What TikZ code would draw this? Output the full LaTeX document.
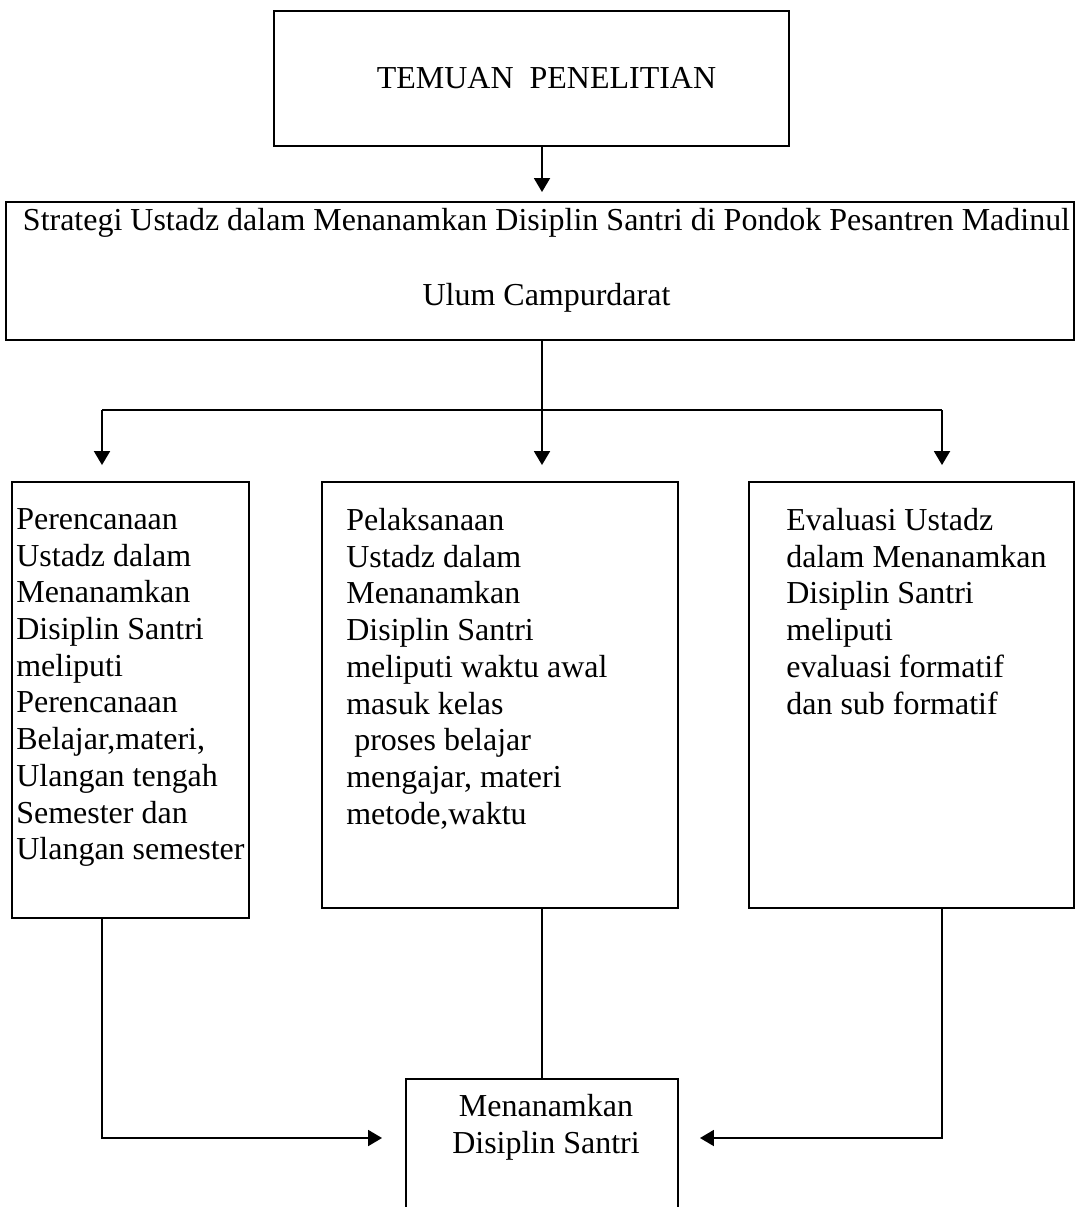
\documentclass[tikz,border=0pt]{standalone}
\usepackage{fontspec}
\setmainfont{Liberation Serif}
\usetikzlibrary{arrows.meta, positioning, calc}
\tikzset{
  kotak/.style={
    rectangle, draw=black, line width=1.1pt,
    inner sep=0pt, outer sep=0pt
  },
  isi/.style={
    anchor=north west, inner sep=0pt, align=left,
    font=\fontsize{18.2}{20.9}\selectfont
  },
  panah/.style={
    -{Triangle[length=0.28cm,width=0.32cm]}, line width=1.1pt
  },
  garis/.style={line width=1.1pt}
}

\begin{document}
\begin{tikzpicture}[x=0.02cm, y=-0.02cm]
  \useasboundingbox (0,0) rectangle (1078,1207);
  \clip (0,0) rectangle (1078,1207);

  % kotak atas
  \node[kotak, minimum width=10.3cm, minimum height=2.7cm,
        font=\fontsize{18.2}{20.9}\selectfont] (temuan) at (531.5,78.5)
    {\hspace*{0.6cm}TEMUAN\ \ PENELITIAN};

  % kotak strategi
  \node[kotak, minimum width=21.36cm, minimum height=2.76cm] (strategi) at (540,271) {};
  \node[align=center, inner sep=0pt, font=\fontsize{18.2}{42.7}\selectfont] (strategiteks) at (546.5,260.5)
    {Strategi Ustadz dalam Menanamkan Disiplin Santri di Pondok Pesantren Madinul\\
     Ulum Campurdarat};

  % tiga kotak tengah
  \node[kotak, minimum width=4.74cm, minimum height=8.72cm] (rencana) at (130.5,700) {};
  \node[kotak, minimum width=7.12cm, minimum height=8.52cm] (laksana) at (500,695) {};
  \node[kotak, minimum width=6.5cm, minimum height=8.52cm] (evaluasi) at (911.5,695) {};

  \node[isi] (rencanateks) at (16,508)
    {Perencanaan\\Ustadz dalam\\Menanamkan\\Disiplin Santri\\meliputi\\Perencanaan\\
     Belajar,materi,\\Ulangan tengah\\Semester dan\\Ulangan semester};
  \node[isi] (laksanateks) at (346,508)
    {Pelaksanaan\\Ustadz dalam\\Menanamkan\\Disiplin Santri\\meliputi waktu awal\\
     masuk kelas\\\hspace*{0.16cm}proses belajar\\mengajar, materi\\metode,waktu};
  \node[isi] (evaluasiteks) at (786,508)
    {Evaluasi Ustadz\\dalam Menanamkan\\Disiplin Santri\\meliputi\\evaluasi formatif\\
     dan sub formatif};

  % kotak bawah (terpotong di tepi bawah)
  \node[kotak, minimum width=5.44cm, minimum height=3.62cm] (hasil) at (542,1169.5) {};
  \node[align=center, inner sep=0pt, font=\fontsize{18.2}{20.9}\selectfont] (hasilteks) at (546,1127.5)
    {Menanamkan\\Disiplin Santri};

  % titik cabang
  \coordinate (kiri) at (102,410);
  \coordinate (tengah) at (542,410);
  \coordinate (kanan) at (942,410);
  \coordinate (masuk) at (542,1138);

  % panah
  \draw[panah, shorten >=0.2cm] (tengah |- temuan.south) -- (tengah |- strategi.north);
  \draw[garis] (tengah |- strategi.south) -- (tengah);
  \draw[garis] (kiri) -- (kanan);
  \draw[panah, shorten >=0.34cm] (kiri) -- (kiri |- rencana.north);
  \draw[panah, shorten >=0.34cm] (tengah) -- (tengah |- laksana.north);
  \draw[panah, shorten >=0.34cm] (kanan) -- (kanan |- evaluasi.north);

  \draw[panah, shorten >=0.48cm] (kiri |- rencana.south) |- (masuk -| hasil.west);
  \draw[panah, shorten >=0.44cm] (kanan |- evaluasi.south) |- (masuk -| hasil.east);
  \draw[garis] (tengah |- laksana.south) -- (tengah |- hasil.north);
\end{tikzpicture}
\end{document}
